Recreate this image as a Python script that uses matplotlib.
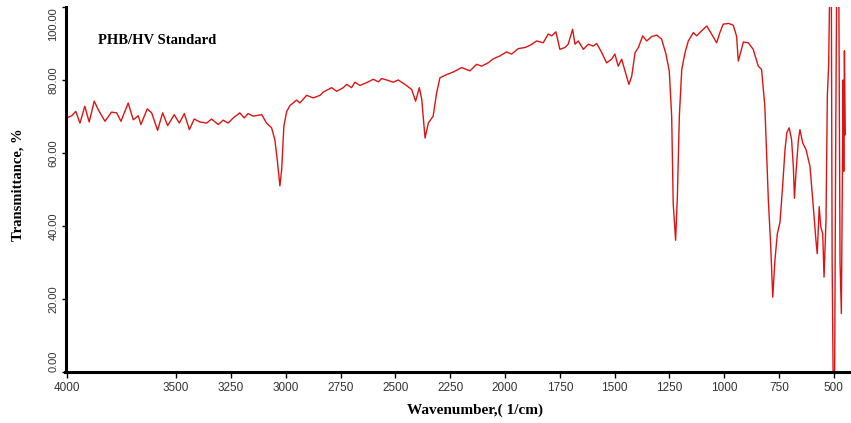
import matplotlib.pyplot as plt

# wavenumber (1/cm) and transmittance (%)
wavenumber = [4000, 3977, 3958, 3939, 3917, 3897, 3874, 3856, 3825, 3795, 3772, 3752,
              3719, 3696, 3673, 3661, 3632, 3612, 3585, 3562, 3539, 3509, 3486, 3463,
              3440, 3418, 3392, 3361, 3339, 3308, 3286, 3263, 3240, 3210, 3190, 3172,
              3149, 3110, 3088, 3065, 3050, 3039, 3027, 3019, 3009, 2996, 2981, 2951,
              2936, 2905, 2875, 2844, 2829, 2791, 2768, 2738, 2722, 2700, 2685, 2662,
              2631, 2601, 2578, 2563, 2540, 2510, 2487, 2457, 2426, 2408, 2391, 2380,
              2365, 2350, 2328, 2312, 2297, 2266, 2236, 2198, 2160, 2130, 2107, 2077,
              2054, 2023, 1993, 1970, 1940, 1909, 1886, 1856, 1826, 1803, 1787, 1768,
              1750, 1727, 1712, 1692, 1681, 1666, 1643, 1620, 1598, 1582, 1559, 1537,
              1514, 1499, 1484, 1468, 1453, 1435, 1422, 1407, 1392, 1372, 1354, 1331,
              1308, 1286, 1266, 1251, 1240, 1233, 1222, 1214, 1205, 1194, 1179, 1164,
              1141, 1126, 1103, 1080, 1058, 1035, 1020, 1005, 980, 959, 944, 936,
              913, 891, 868, 845, 830, 815, 799, 788, 779, 769, 758, 746,
              734, 723, 715, 704, 693, 685, 680, 673, 662, 655, 642, 627,
              609, 594, 582, 576, 567, 560, 551, 545, 536, 530, 524, 518,
              512, 508, 503, 497, 492, 487, 478, 472, 466, 462, 458, 455,
              452, 448]
transmittance = [69.6, 70.2, 71.4, 68.2, 72.8, 68.5, 74.2, 71.9, 68.7, 71.2, 71.0, 68.7,
                 73.7, 69.1, 70.2, 67.8, 72.1, 71.0, 66.2, 71.0, 67.5, 70.5, 68.2, 70.8,
                 66.4, 69.3, 68.5, 68.2, 69.3, 67.8, 69.0, 68.2, 69.6, 71.0, 69.6, 70.8,
                 70.1, 70.5, 68.2, 66.9, 63.6, 58.1, 51.0, 55.4, 67.3, 71.4, 73.0, 74.5,
                 73.7, 75.8, 75.1, 75.8, 76.7, 77.9, 76.9, 77.9, 78.8, 77.9, 79.4, 78.5,
                 79.3, 80.2, 79.5, 80.4, 80.0, 79.4, 80.0, 78.8, 77.4, 74.2, 77.9, 74.7,
                 64.1, 68.2, 70.1, 76.5, 80.6, 81.5, 82.2, 83.4, 82.5, 84.3, 83.8, 84.7,
                 85.8, 86.6, 87.7, 87.1, 88.6, 88.9, 89.5, 90.7, 90.2, 92.6, 92.1, 93.2,
                 88.4, 88.9, 89.8, 93.9, 89.8, 90.7, 88.4, 89.8, 89.3, 90.0, 87.5, 84.7,
                 85.7, 87.1, 83.8, 85.7, 82.5, 78.8, 81.1, 87.5, 88.9, 92.1, 90.7, 91.9,
                 92.3, 91.2, 87.1, 82.5, 70.1, 46.2, 36.1, 48.0, 70.1, 82.9, 87.5, 90.7,
                 93.0, 92.1, 93.5, 94.8, 92.6, 90.2, 93.0, 95.3, 95.5, 95.0, 92.0, 85.2,
                 90.4, 90.2, 88.4, 83.8, 82.9, 72.8, 47.1, 34.2, 20.5, 30.6, 37.9, 41.0,
                 50.8, 60.9, 65.5, 66.9, 63.6, 56.3, 47.6, 54.5, 63.6, 66.4, 62.7, 60.9,
                 56.3, 45.3, 36.1, 32.4, 45.3, 39.8, 37.9, 26.0, 41.6, 75.6, 83.8, 110,
                 110, 30, -5, -5, 60, 110, 110, 30, 16, 50, 80, 55,
                 88, 65]

x_ticks = [4000, 3500, 3250, 3000, 2750, 2500, 2250, 2000, 1750, 1500, 1250, 1000, 750, 500]
y_ticks = [0, 20, 40, 60, 80, 100]
y_labels = ["0.00", "20.00", "40.00", "60.00", "80.00", "100.00"]

W, H = 851, 423
fig = plt.figure(figsize=(W / 100, H / 100), dpi=100)
ax = fig.add_axes([65.5 / W, (H - 372) / H, (W - 65.5) / W, (372 - 7) / H])

ax.plot(wavenumber, transmittance, color='#dc1414', lw=1.0)
ax.set_xlim(4005, 422)
ax.set_ylim(0, 100)

for s in ['top', 'right']:
    ax.spines[s].set_visible(False)
for s in ['left', 'bottom']:
    ax.spines[s].set_linewidth(2.2)
    ax.spines[s].set_color('black')

ax.set_xticks(x_ticks)
ax.set_xticklabels([str(t) for t in x_ticks], fontsize=8.5, color='#333333',
                   family='Liberation Sans')
ax.set_yticks(y_ticks)
ax.set_yticklabels(y_labels, fontsize=8, color='#333333', family='Liberation Sans',
                   rotation=90, va='center')
ylab = ax.get_yticklabels()
ylab[0].set_va('bottom')
ylab[-1].set_va('top')
ax.tick_params(axis='x', length=4, width=1, pad=3)
ax.tick_params(axis='y', length=3, width=1, pad=2)

fig.text(97.7 / W, 1 - 40 / H, "PHB/HV Standard", fontsize=10.5, fontweight='bold',
         family='Liberation Serif', ha='left', va='center')
fig.text(18 / W, 1 - 185 / H, "Transmittance, %", fontsize=10.5, fontweight='bold',
         family='Liberation Serif', rotation=90, ha='center', va='center')
fig.text(475 / W, 1 - 410 / H, "Wavenumber,( 1/cm)", fontsize=11, fontweight='bold',
         family='Liberation Serif', ha='center', va='center')

fig.savefig('out.png', dpi=100)
